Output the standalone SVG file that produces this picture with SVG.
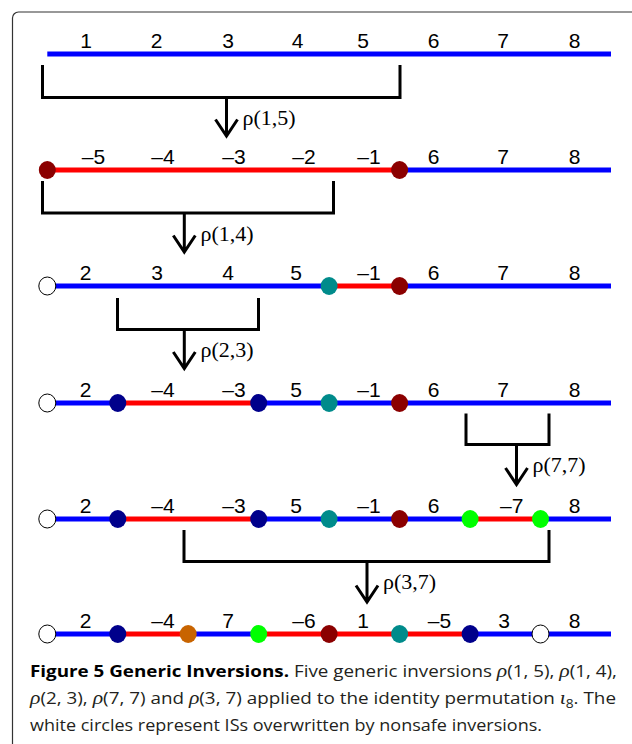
<svg xmlns="http://www.w3.org/2000/svg" width="632" height="744" viewBox="0 0 632 744">
<style>
.b{stroke:#0000ff;stroke-width:5;fill:none}
.r{stroke:#ff0000;stroke-width:5;fill:none}
.lbl{font-family:"Liberation Sans",Arial,sans-serif;font-size:21px;text-anchor:middle;fill:#000}
.op{font-family:"Liberation Serif","Times New Roman",serif;font-size:22px;fill:#000}
.br{stroke:#000;stroke-width:3;fill:none;stroke-linejoin:miter}
.dr{fill:#8b0000}.tl{fill:#008b8b}.nv{fill:#00008b}.gr{fill:#00ff00}.or{fill:#c86400}
.wh{fill:#fff;stroke:#000;stroke-width:1}
.cap{font-family:"Open Sans","Noto Sans",sans-serif;font-size:16.5px;fill:#231f20}
.capb{font-weight:bold;fill:#000}
.m{font-family:"Liberation Serif","Times New Roman",serif;font-style:italic;font-size:19px}
</style>
<defs>
<ellipse id="d" cx="0" cy="0" rx="8.5" ry="9"/>
</defs>
<rect x="12.5" y="12" width="700" height="800" rx="6" fill="none" stroke="#333" stroke-width="1.2"/>

<g id="row1">
<path class="b" d="M47.3 54H117.8M117.8 54H188.2M188.2 54H258.7M258.7 54H329.1M329.1 54H399.6M399.6 54H470.1M470.1 54H540.5M540.5 54H611"/>
<text class="lbl" y="48"><tspan x="86">1</tspan><tspan x="156.7">2</tspan><tspan x="228">3</tspan><tspan x="297.6">4</tspan><tspan x="363">5</tspan><tspan x="433.5">6</tspan><tspan x="503">7</tspan><tspan x="574.6">8</tspan></text>
</g>

<g id="row2">
<path class="r" d="M47.3 170H117.8M117.8 170H188.2M188.2 170H258.7M258.7 170H329.1M329.1 170H399.6"/>
<path class="b" d="M399.6 170H470.1M470.1 170H540.5M540.5 170H611"/>
<use href="#d" x="47.3" y="170" class="dr"/>
<use href="#d" x="399.6" y="170" class="dr"/>
<text class="lbl" y="164"><tspan x="93.5">–5</tspan><tspan x="163">–4</tspan><tspan x="234">–3</tspan><tspan x="304">–2</tspan><tspan x="369">–1</tspan><tspan x="433.5">6</tspan><tspan x="503">7</tspan><tspan x="574.6">8</tspan></text>
</g>

<g id="row3">
<path class="b" d="M47.3 286H117.8M117.8 286H188.2M188.2 286H258.7M258.7 286H329.1"/>
<path class="r" d="M329.1 286H399.6"/>
<path class="b" d="M399.6 286H470.1M470.1 286H540.5M540.5 286H611"/>
<use href="#d" x="47.3" y="286" class="wh"/>
<use href="#d" x="329.1" y="286" class="tl"/>
<use href="#d" x="399.6" y="286" class="dr"/>
<text class="lbl" y="280"><tspan x="85.5">2</tspan><tspan x="157">3</tspan><tspan x="228">4</tspan><tspan x="296">5</tspan><tspan x="369">–1</tspan><tspan x="433.5">6</tspan><tspan x="503">7</tspan><tspan x="574.6">8</tspan></text>
</g>

<g id="row4">
<path class="b" d="M47.3 403H117.8"/>
<path class="r" d="M117.8 403H188.2M188.2 403H258.7"/>
<path class="b" d="M258.7 403H329.1M329.1 403H399.6M399.6 403H470.1M470.1 403H540.5M540.5 403H611"/>
<use href="#d" x="47.3" y="403" class="wh"/>
<use href="#d" x="117.8" y="403" class="nv"/>
<use href="#d" x="258.7" y="403" class="nv"/>
<use href="#d" x="329.1" y="403" class="tl"/>
<use href="#d" x="399.6" y="403" class="dr"/>
<text class="lbl" y="397"><tspan x="85.5">2</tspan><tspan x="163">–4</tspan><tspan x="234">–3</tspan><tspan x="296">5</tspan><tspan x="369">–1</tspan><tspan x="433.5">6</tspan><tspan x="503">7</tspan><tspan x="574.6">8</tspan></text>
</g>

<g id="row5">
<path class="b" d="M47.3 519H117.8"/>
<path class="r" d="M117.8 519H188.2M188.2 519H258.7"/>
<path class="b" d="M258.7 519H329.1M329.1 519H399.6M399.6 519H470.1"/>
<path class="r" d="M470.1 519H540.5"/>
<path class="b" d="M540.5 519H611"/>
<use href="#d" x="47.3" y="519" class="wh"/>
<use href="#d" x="117.8" y="519" class="nv"/>
<use href="#d" x="258.7" y="519" class="nv"/>
<use href="#d" x="329.1" y="519" class="tl"/>
<use href="#d" x="399.6" y="519" class="dr"/>
<use href="#d" x="470.1" y="519" class="gr"/>
<use href="#d" x="540.5" y="519" class="gr"/>
<text class="lbl" y="512.5"><tspan x="85.5">2</tspan><tspan x="163">–4</tspan><tspan x="234">–3</tspan><tspan x="296">5</tspan><tspan x="369">–1</tspan><tspan x="433.5">6</tspan><tspan x="511.7">–7</tspan><tspan x="574.6">8</tspan></text>
</g>

<g id="row6">
<path class="b" d="M47.3 634H117.8"/>
<path class="r" d="M117.8 634H188.2"/>
<path class="b" d="M188.2 634H258.7"/>
<path class="r" d="M258.7 634H329.1M329.1 634H399.6M399.6 634H470.1"/>
<path class="b" d="M470.1 634H540.5M540.5 634H611"/>
<use href="#d" x="47.3" y="634" class="wh"/>
<use href="#d" x="117.8" y="634" class="nv"/>
<use href="#d" x="188.2" y="634" class="or"/>
<use href="#d" x="258.7" y="634" class="gr"/>
<use href="#d" x="329.1" y="634" class="dr"/>
<use href="#d" x="399.6" y="634" class="tl"/>
<use href="#d" x="470.1" y="634" class="nv"/>
<use href="#d" x="540.5" y="634" class="wh"/>
<text class="lbl" y="628"><tspan x="85.5">2</tspan><tspan x="163">–4</tspan><tspan x="228">7</tspan><tspan x="304">–6</tspan><tspan x="363">1</tspan><tspan x="439.5">–5</tspan><tspan x="504">3</tspan><tspan x="574.6">8</tspan></text>
</g>

<g id="connectors">
<path class="br" d="M42.5 65V97.5H400V65"/>
<path class="br" d="M226.5 97.5V136M215.5 119.5L226.5 136L237.5 119.5"/>
<text class="op" x="242.5" y="125">ρ(1,5)</text>

<path class="br" d="M42.5 181V213H333.5V181"/>
<path class="br" d="M184.3 213V252M173.3 235.5L184.3 252L195.3 235.5"/>
<text class="op" x="200.5" y="240.5">ρ(1,4)</text>

<path class="br" d="M117.5 298V329.5H258.5V298"/>
<path class="br" d="M184.3 329.5V368.5M173.3 352L184.3 368.5L195.3 352"/>
<text class="op" x="200.5" y="357">ρ(2,3)</text>

<path class="br" d="M466 413.5V444.5H549V413.5"/>
<path class="br" d="M516.5 444.5V484.5M505.5 468L516.5 484.5L527.5 468"/>
<text class="op" x="532.5" y="472">ρ(7,7)</text>

<path class="br" d="M184 530V561.5H549V530"/>
<path class="br" d="M367 561.5V602M356 585.5L367 602L378 585.5"/>
<text class="op" x="383" y="589">ρ(3,7)</text>
</g>

<g id="caption" class="cap">
<text x="30" y="676.5" textLength="587" lengthAdjust="spacingAndGlyphs"><tspan class="capb">Figure 5 Generic Inversions.</tspan> Five generic inversions <tspan class="m">ρ</tspan>(1, 5), <tspan class="m">ρ</tspan>(1, 4),</text>
<text x="30" y="703.5" textLength="586" lengthAdjust="spacingAndGlyphs"><tspan class="m">ρ</tspan>(2, 3), <tspan class="m">ρ</tspan>(7, 7) and <tspan class="m">ρ</tspan>(3, 7) applied to the identity permutation <tspan class="m">ι</tspan><tspan font-size="12" dy="4">8</tspan><tspan dy="-4">. The</tspan></text>
<text x="30" y="730.5" textLength="512" lengthAdjust="spacingAndGlyphs">white circles represent ISs overwritten by nonsafe inversions.</text>
</g>
</svg>
